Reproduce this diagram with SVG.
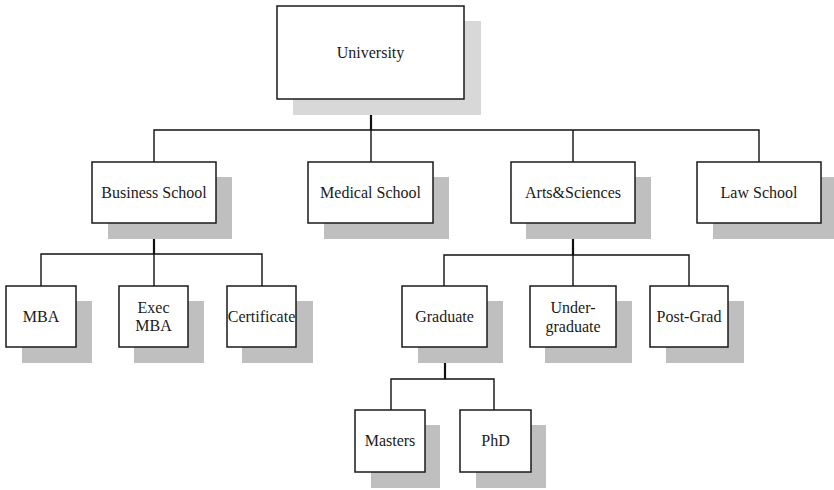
<svg xmlns="http://www.w3.org/2000/svg" width="834" height="490" viewBox="0 0 834 490">
<style>
.box{fill:#fff;stroke:#1a1a1a;stroke-width:1.5}
.sh{fill:#bfbfbf}
.sh2{fill:#d8d8d8}
.t{font-family:'Liberation Serif','DejaVu Serif',serif;font-size:16px;fill:#1a1a1a;text-anchor:middle}
.c{fill:none;stroke:#111;stroke-width:1.4}
.ct{fill:none;stroke:#111;stroke-width:2.2}
</style>
<rect width="834" height="490" fill="#fff"/>
<g id="connectors">
<path class="ct" d="M371,99V130"/>
<path class="c" d="M154,162V130H759V162M371,130V162M573,130V162"/>
<path class="ct" d="M154,223V254"/>
<path class="c" d="M41,286V254H262V286M154,254V286"/>
<path class="ct" d="M573,223V255"/>
<path class="c" d="M444,286V255H689V286M573,255V286"/>
<path class="ct" d="M445,347V379"/>
<path class="c" d="M391,410V379H494V410"/>
</g>
<g class="t" font-family="Liberation Serif, serif">
<g id="university"><rect class="sh2" x="293" y="21" width="188" height="94"/><rect class="box" x="277" y="6" width="187" height="93"/><text x="370.5" y="58">University</text></g>
<g id="business"><rect class="sh" x="108" y="177" width="124" height="62"/><rect class="box" x="92" y="162" width="124" height="61"/><text x="154" y="198">Business School</text></g>
<g id="medical"><rect class="sh" x="324" y="177" width="125" height="62"/><rect class="box" x="308" y="162" width="125" height="61"/><text x="370.5" y="198">Medical School</text></g>
<g id="arts"><rect class="sh" x="526" y="177" width="125" height="62"/><rect class="box" x="511" y="162" width="124" height="61"/><text x="573" y="198">Arts&amp;Sciences</text></g>
<g id="law"><rect class="sh" x="713" y="177" width="121" height="62"/><rect class="box" x="697" y="162" width="124" height="61"/><text x="759" y="198">Law School</text></g>
<g id="mba"><rect class="sh" x="22" y="301" width="70" height="62"/><rect class="box" x="6" y="286" width="70" height="61"/><text x="41" y="322">MBA</text></g>
<g id="execmba"><rect class="sh" x="134" y="301" width="70" height="62"/><rect class="box" x="119" y="286" width="69" height="61"/><text x="153.5" y="313">Exec</text><text x="153.5" y="331">MBA</text></g>
<g id="certificate"><rect class="sh" x="242" y="301" width="71" height="62"/><rect class="box" x="227" y="286" width="69" height="61"/><text x="261.5" y="322">Certificate</text></g>
<g id="graduate"><rect class="sh" x="418" y="301" width="85" height="62"/><rect class="box" x="402" y="286" width="85" height="61"/><text x="444.5" y="322">Graduate</text></g>
<g id="undergraduate"><rect class="sh" x="545" y="301" width="87" height="62"/><rect class="box" x="530" y="286" width="86" height="61"/><text x="573" y="313">Under-</text><text x="573" y="332">graduate</text></g>
<g id="postgrad"><rect class="sh" x="666" y="301" width="78" height="62"/><rect class="box" x="650" y="286" width="78" height="61"/><text x="689" y="322">Post-Grad</text></g>
<g id="masters"><rect class="sh" x="371" y="425" width="69" height="63"/><rect class="box" x="355" y="410" width="70" height="62"/><text x="390" y="446">Masters</text></g>
<g id="phd"><rect class="sh" x="476" y="425" width="70" height="63"/><rect class="box" x="460" y="410" width="71" height="62"/><text x="495.5" y="446">PhD</text></g>
</g>
</svg>
